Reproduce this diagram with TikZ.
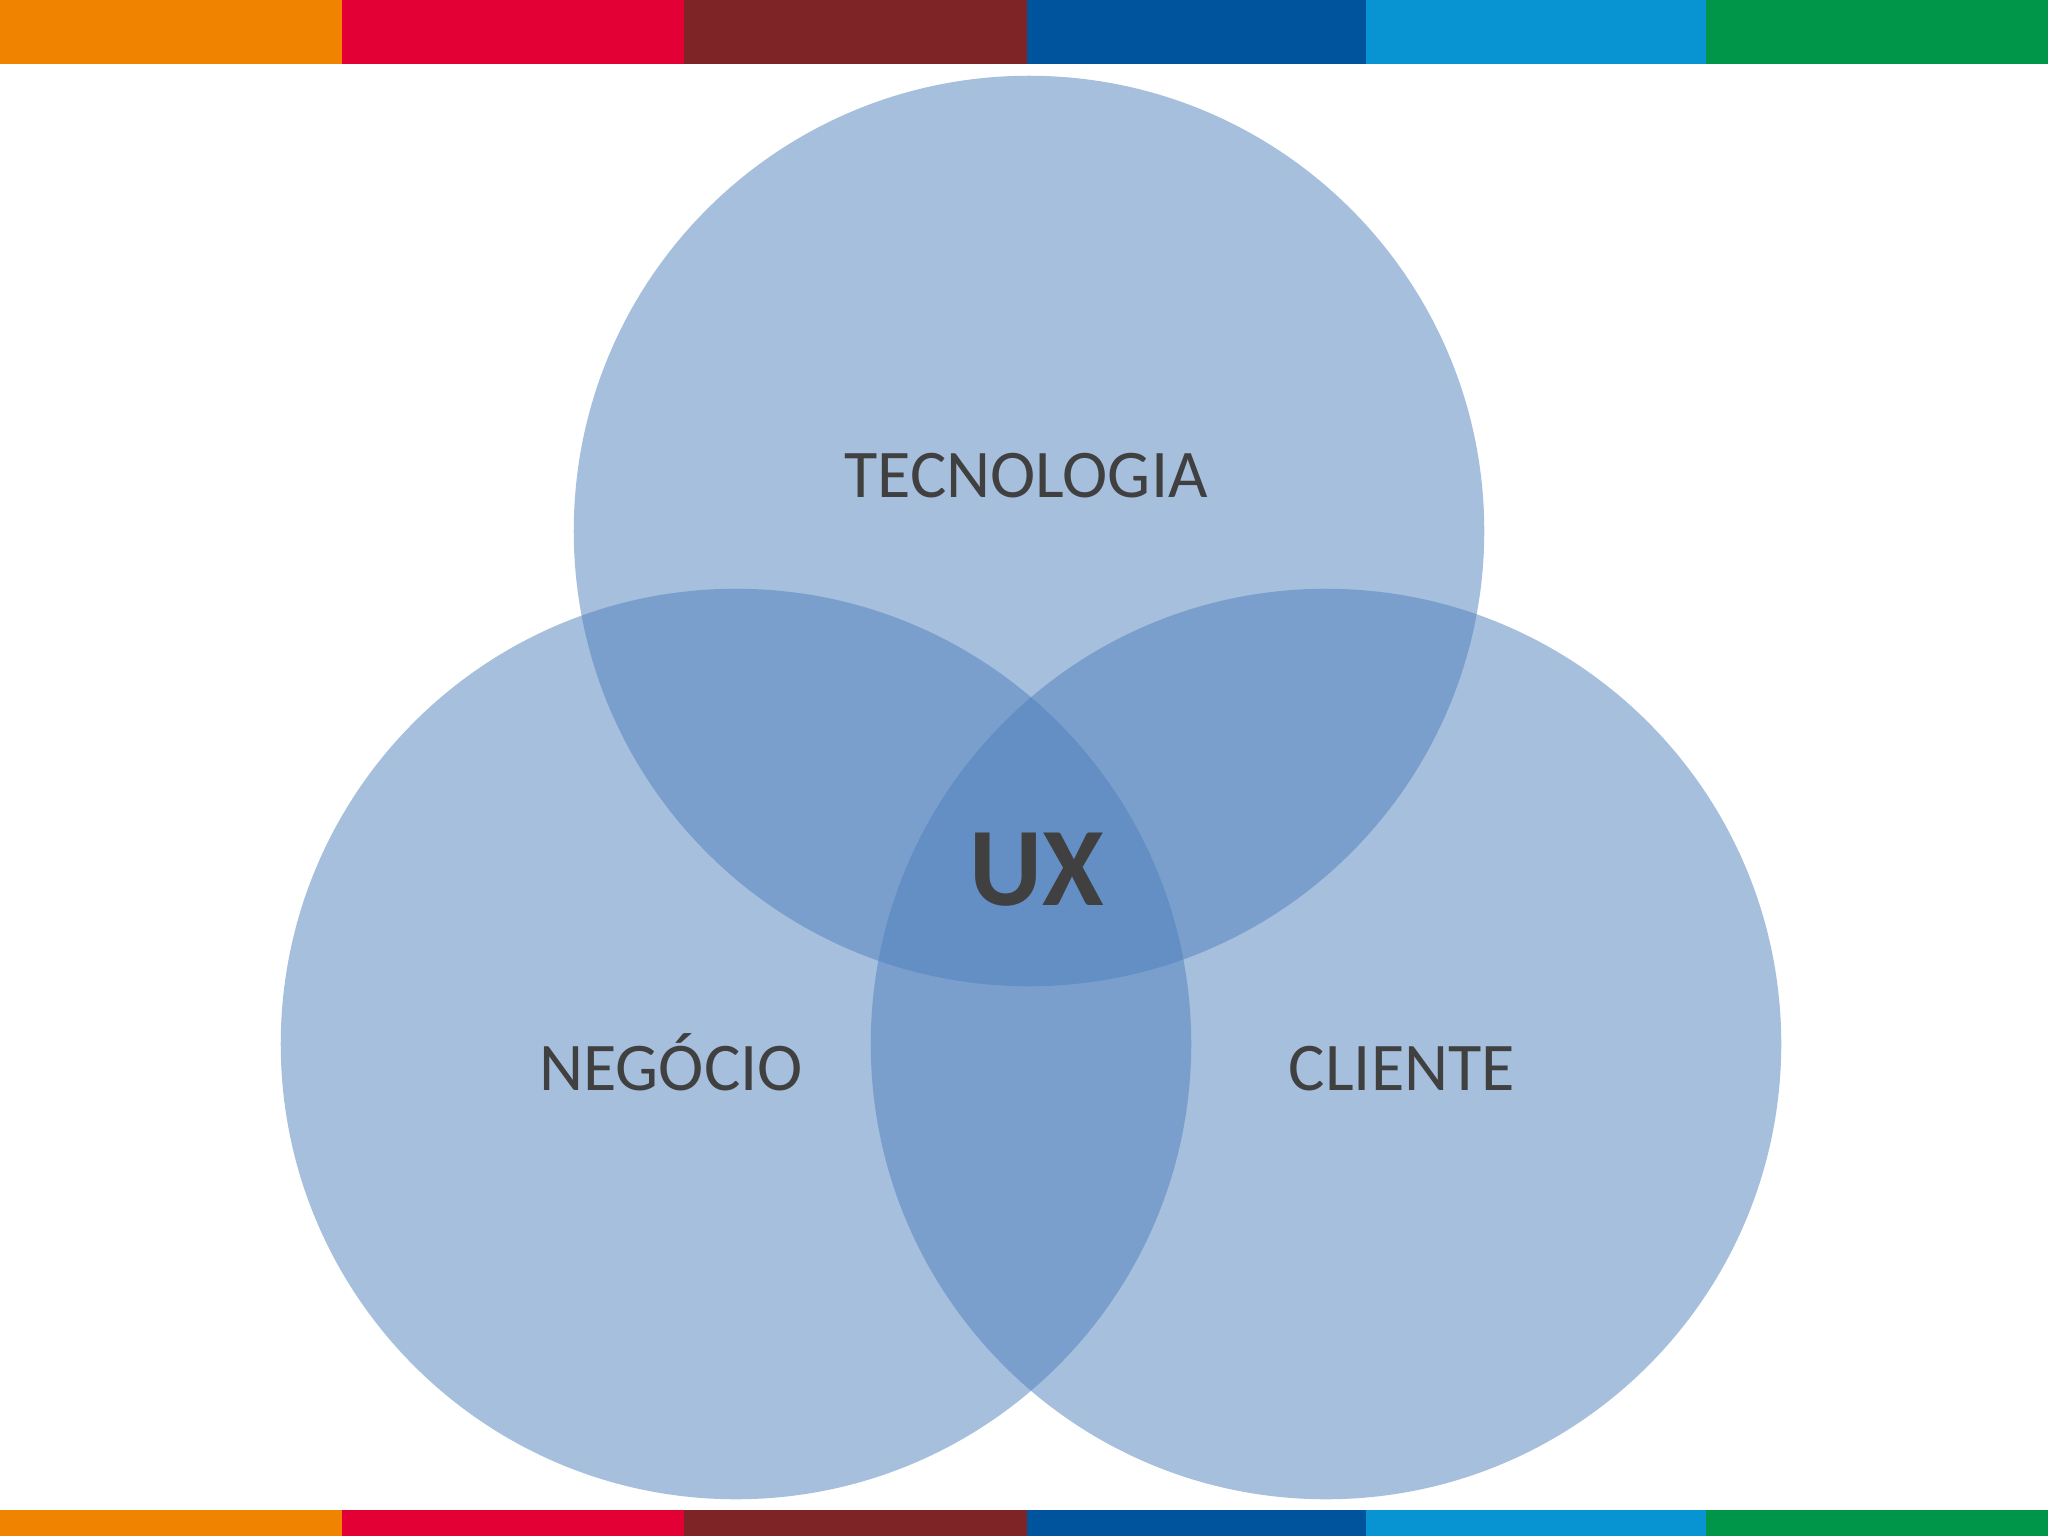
\documentclass[tikz,border=0pt]{standalone}
\usepackage{fontspec}
\setmainfont{Carlito}
\definecolor{barorange}{HTML}{F08300}
\definecolor{barred}{HTML}{E30034}
\definecolor{bardark}{HTML}{7E2427}
\definecolor{barblue}{HTML}{00549E}
\definecolor{barlight}{HTML}{0894D3}
\definecolor{bargreen}{HTML}{00964A}
\definecolor{vennblue}{HTML}{4F81BD}
\definecolor{txtgray}{HTML}{404040}
\begin{document}
\begin{tikzpicture}[x=0.01cm,y=-0.01cm,
  venn/.style={circle,draw=none,fill=vennblue,fill opacity=0.5,inner sep=0pt,minimum size=9.1cm},
  lbl/.style={anchor=base,text=txtgray,inner sep=0pt,font=\fontsize{19.4}{23}\selectfont},
  uxlbl/.style={anchor=base,text=txtgray,inner sep=0pt,font=\fontsize{31.8}{38}\selectfont\bfseries}]
\useasboundingbox (0,0) rectangle (2048,1536);
\fill[white] (0,0) rectangle (2048,1536);
% top and bottom bars
\foreach \a/\b/\c in {0/342/barorange,342/684/barred,684/1027/bardark,1027/1366/barblue,1366/1706/barlight,1706/2048/bargreen}{
  \fill[\c] (\a,0) rectangle (\b,64);
  \fill[\c] (\a,1510) rectangle (\b,1536);
}
% circles
\node[venn] (tec) at (1029,531) {};
\node[venn] (neg) at (736,1044) {};
\node[venn] (cli) at (1326,1044) {};
% labels
\node[lbl] (ttec) at (1026,497) {TECNOLOGIA};
\node[lbl] (tneg) at (671,1090) {NEGÓCIO};
\node[lbl] (tcli) at (1402,1090) {CLIENTE};
\node[uxlbl] (ux) at (1037,905) {UX};
\end{tikzpicture}
\end{document}
